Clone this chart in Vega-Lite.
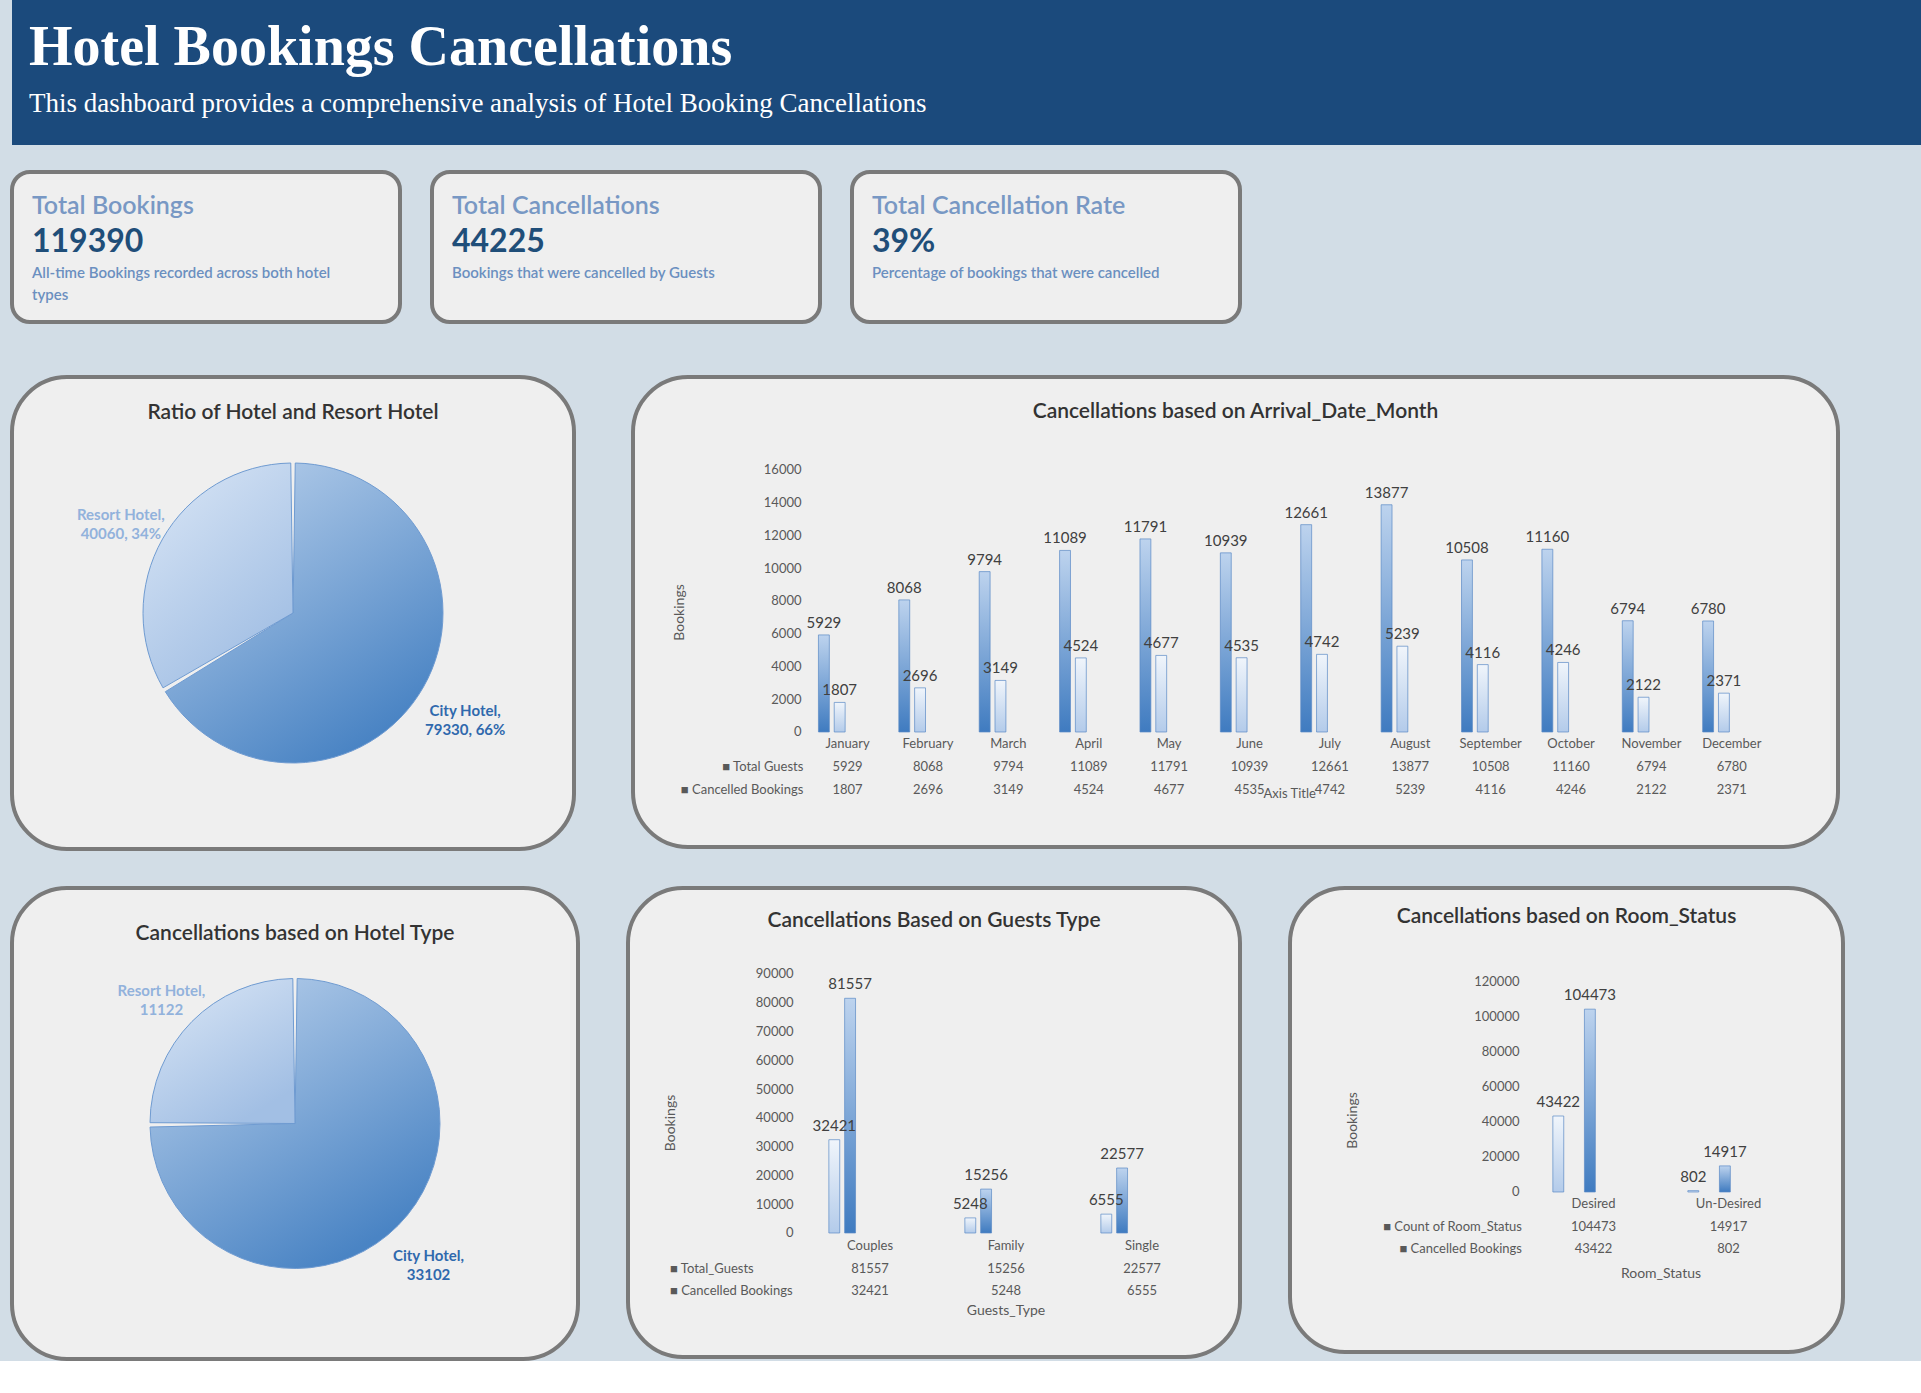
{
  "$schema": "https://vega.github.io/schema/vega-lite/v6.json",
  "background": "#d2dde6",
  "padding": {"left": 10, "top": 0, "right": 0, "bottom": 0},
  "config": {"font": "Lato", "view": {"stroke": null}},
  "spacing": 35,
  "vconcat": [
    {
      "spacing": 51,
      "vconcat": [
        {
          "spacing": 25,
          "vconcat": [
            {
              "width": 1911,
              "height": 145,
              "view": {"fill": "#1b4a7c", "stroke": null},
              "title": {
                "text": "Hotel Bookings Cancellations",
                "subtitle": "This dashboard provides a comprehensive analysis of Hotel Booking Cancellations",
                "anchor": "start", "frame": "group", "dx": 17, "offset": -118,
                "font": "Liberation Serif", "fontSize": 56, "fontWeight": "bold", "color": "#ffffff",
                "subtitleFont": "Liberation Serif", "subtitleFontSize": 27, "subtitleColor": "#ffffff",
                "subtitlePadding": 14
              },
              "data": {"values": [{"t": ""}]},
              "mark": "text",
              "encoding": {"text": {"field": "t"}}
            },
            {
              "spacing": 28,
              "hconcat": [
                {
                  "width": 388, "height": 150,
                  "view": {"fill": "#efefef", "stroke": "#7a7a7a", "strokeWidth": 4, "cornerRadius": 18},
                  "title": {"text": "Total Bookings", "subtitle": "119390", "anchor": "start", "frame": "group", "dx": 20, "offset": -86,
                    "fontSize": 25, "fontWeight": 600, "color": "#7898c4",
                    "subtitleFont": "Lato", "subtitleFontSize": 32, "subtitleFontWeight": "bold", "subtitleColor": "#1f4e79", "subtitlePadding": 8},
                  "data": {"values": [{"d": "All-time Bookings recorded across both hotel\ntypes"}]},
                  "mark": {"type": "text", "align": "left", "baseline": "middle", "lineBreak": "\n", "lineHeight": 22, "fontSize": 15, "fontWeight": 600, "color": "#6b8fc0"},
                  "encoding": {
                    "text": {"field": "d"},
                    "x": {"datum": 0, "type": "quantitative", "scale": {"domain": [0, 1], "range": [20, 388]}, "axis": null},
                    "y": {"datum": 0, "type": "quantitative", "scale": {"domain": [0, 1], "range": [101, 0]}, "axis": null}
                  }
                },
                {
                  "width": 388, "height": 150,
                  "view": {"fill": "#efefef", "stroke": "#7a7a7a", "strokeWidth": 4, "cornerRadius": 18},
                  "title": {"text": "Total Cancellations", "subtitle": "44225", "anchor": "start", "frame": "group", "dx": 20, "offset": -86,
                    "fontSize": 25, "fontWeight": 600, "color": "#7898c4",
                    "subtitleFont": "Lato", "subtitleFontSize": 32, "subtitleFontWeight": "bold", "subtitleColor": "#1f4e79", "subtitlePadding": 8},
                  "data": {"values": [{"d": "Bookings that were cancelled by Guests"}]},
                  "mark": {"type": "text", "align": "left", "baseline": "middle", "lineBreak": "\n", "lineHeight": 22, "fontSize": 15, "fontWeight": 600, "color": "#6b8fc0"},
                  "encoding": {
                    "text": {"field": "d"},
                    "x": {"datum": 0, "type": "quantitative", "scale": {"domain": [0, 1], "range": [20, 388]}, "axis": null},
                    "y": {"datum": 0, "type": "quantitative", "scale": {"domain": [0, 1], "range": [101, 0]}, "axis": null}
                  }
                },
                {
                  "width": 388, "height": 150,
                  "view": {"fill": "#efefef", "stroke": "#7a7a7a", "strokeWidth": 4, "cornerRadius": 18},
                  "title": {"text": "Total Cancellation Rate", "subtitle": "39%", "anchor": "start", "frame": "group", "dx": 20, "offset": -86,
                    "fontSize": 25, "fontWeight": 600, "color": "#7898c4",
                    "subtitleFont": "Lato", "subtitleFontSize": 32, "subtitleFontWeight": "bold", "subtitleColor": "#1f4e79", "subtitlePadding": 8},
                  "data": {"values": [{"d": "Percentage of bookings that were cancelled"}]},
                  "mark": {"type": "text", "align": "left", "baseline": "middle", "lineBreak": "\n", "lineHeight": 22, "fontSize": 15, "fontWeight": 600, "color": "#6b8fc0"},
                  "encoding": {
                    "text": {"field": "d"},
                    "x": {"datum": 0, "type": "quantitative", "scale": {"domain": [0, 1], "range": [20, 388]}, "axis": null},
                    "y": {"datum": 0, "type": "quantitative", "scale": {"domain": [0, 1], "range": [101, 0]}, "axis": null}
                  }
                }
              ]
            }
          ]
        },
        {
          "spacing": 55,
          "hconcat": [
            {
              "width": 562, "height": 472,
              "view": {"fill": "#efefef", "stroke": "#7a7a7a", "strokeWidth": 4, "cornerRadius": 55},
              "title": {"text": "Ratio of Hotel and Resort Hotel", "anchor": "middle", "frame": "group", "baseline": "middle", "offset": -57, "fontSize": 21, "fontWeight": 600, "color": "#333333"},
              "data": {"values": [
                {"hotel": "City Hotel", "n": 79330, "o": 1, "lbl": "City Hotel,\n79330, 66%"},
                {"hotel": "Resort Hotel", "n": 40060, "o": 2, "lbl": "Resort Hotel,\n40060, 34%"}
              ]},
              "encoding": {
                "theta": {"field": "n", "type": "quantitative", "stack": true},
                "order": {"field": "o"}
              },
              "layer": [
                {
                  "mark": {"type": "arc", "outerRadius": 150, "padAngle": 0.03, "stroke": "#6f9bd1", "strokeWidth": 1},
                  "encoding": {
                    "color": {
                      "condition": {"test": "datum.hotel === 'City Hotel'", "value": {"gradient": "linear", "x1": 0, "y1": 0, "x2": 0.6, "y2": 1, "stops": [{"offset": 0, "color": "#c0d5ee"}, {"offset": 1, "color": "#4a84c4"}]}},
                      "value": {"gradient": "linear", "x1": 0, "y1": 0, "x2": 0.6, "y2": 1, "stops": [{"offset": 0, "color": "#dbe7f6"}, {"offset": 1, "color": "#a2bfe4"}]}
                    }
                  }
                },
                {
                  "mark": {"type": "text", "radius": 198, "lineBreak": "\n", "fontSize": 15, "fontWeight": "bold", "lineHeight": 19},
                  "encoding": {
                    "text": {"field": "lbl"},
                    "color": {"condition": {"test": "datum.hotel === 'City Hotel'", "value": "#2f69ad"}, "value": "#92b2dc"}
                  }
                }
              ]
            },
            {
              "width": 1205, "height": 470,
              "view": {"fill": "#efefef", "stroke": "#7a7a7a", "strokeWidth": 4, "cornerRadius": 55},
              "title": {"text": "Cancellations based on Arrival_Date_Month", "anchor": "middle", "frame": "group", "baseline": "middle", "offset": -56, "fontSize": 21, "fontWeight": 600, "color": "#333333"},
              "data": {"values": [
                {"m": "January", "s": "Total Guests", "v": 5929}, {"m": "January", "s": "Cancelled Bookings", "v": 1807},
                {"m": "February", "s": "Total Guests", "v": 8068}, {"m": "February", "s": "Cancelled Bookings", "v": 2696},
                {"m": "March", "s": "Total Guests", "v": 9794}, {"m": "March", "s": "Cancelled Bookings", "v": 3149},
                {"m": "April", "s": "Total Guests", "v": 11089}, {"m": "April", "s": "Cancelled Bookings", "v": 4524},
                {"m": "May", "s": "Total Guests", "v": 11791}, {"m": "May", "s": "Cancelled Bookings", "v": 4677},
                {"m": "June", "s": "Total Guests", "v": 10939}, {"m": "June", "s": "Cancelled Bookings", "v": 4535},
                {"m": "July", "s": "Total Guests", "v": 12661}, {"m": "July", "s": "Cancelled Bookings", "v": 4742},
                {"m": "August", "s": "Total Guests", "v": 13877}, {"m": "August", "s": "Cancelled Bookings", "v": 5239},
                {"m": "September", "s": "Total Guests", "v": 10508}, {"m": "September", "s": "Cancelled Bookings", "v": 4116},
                {"m": "October", "s": "Total Guests", "v": 11160}, {"m": "October", "s": "Cancelled Bookings", "v": 4246},
                {"m": "November", "s": "Total Guests", "v": 6794}, {"m": "November", "s": "Cancelled Bookings", "v": 2122},
                {"m": "December", "s": "Total Guests", "v": 6780}, {"m": "December", "s": "Cancelled Bookings", "v": 2371}
              ]},
              "encoding": {
                "x": {"field": "m", "type": "nominal", "sort": null, "axis": null,
                  "scale": {"domain": ["lbl", "January", "February", "March", "April", "May", "June", "July", "August", "September", "October", "November", "December"], "range": [94, 1139], "paddingInner": 0, "paddingOuter": 0}}
              },
              "layer": [
                {
                  "mark": {"type": "bar", "stroke": "#5a8ac6", "strokeWidth": 0.7},
                  "encoding": {
                    "xOffset": {"field": "s", "sort": ["Total Guests", "Cancelled Bookings"], "scale": {"domain": ["Total Guests", "Cancelled Bookings"], "paddingInner": 0.31, "paddingOuter": 0.7}},
                    "y": {"field": "v", "type": "quantitative", "scale": {"domain": [-7023, 21679], "nice": false, "zero": false},
                      "axis": {"values": [0, 2000, 4000, 6000, 8000, 10000, 12000, 14000, 16000], "format": "d", "grid": false, "domain": false, "ticks": false, "offset": -170,
                        "labelColor": "#595959", "labelFontSize": 13, "title": "Bookings", "titleColor": "#595959", "titleFontSize": 14, "titleFontWeight": "normal", "titlePadding": 77}},
                    "y2": {"datum": 0},
                    "color": {
                      "condition": {"test": "datum.s === 'Cancelled Bookings'", "value": {"gradient": "linear", "x1": 0, "y1": 0, "x2": 0, "y2": 1, "stops": [{"offset": 0, "color": "#f0f5fb"}, {"offset": 1, "color": "#b3cbea"}]}},
                      "value": {"gradient": "linear", "x1": 0, "y1": 0, "x2": 0, "y2": 1, "stops": [{"offset": 0, "color": "#bdd3ee"}, {"offset": 1, "color": "#3f7bc0"}]}
                    }
                  }
                },
                {
                  "mark": {"type": "text", "dy": -12, "fontSize": 15, "color": "#404040"},
                  "encoding": {
                    "xOffset": {"field": "s", "sort": ["Total Guests", "Cancelled Bookings"]},
                    "y": {"field": "v", "type": "quantitative"},
                    "text": {"field": "v", "type": "quantitative", "format": "d"}
                  }
                },
                {
                  "transform": [{"filter": "datum.s === 'Total Guests'"}],
                  "mark": {"type": "text", "fontSize": 13, "color": "#595959"},
                  "encoding": {"y": {"datum": -733, "type": "quantitative"}, "text": {"field": "m"}}
                },
                {
                  "transform": [{"filter": "datum.s === 'Total Guests'"}],
                  "mark": {"type": "text", "fontSize": 13, "color": "#595959"},
                  "encoding": {"y": {"datum": -2137, "type": "quantitative"}, "text": {"field": "v", "type": "quantitative", "format": "d"}}
                },
                {
                  "transform": [{"filter": "datum.s === 'Cancelled Bookings'"}],
                  "mark": {"type": "text", "fontSize": 13, "color": "#595959"},
                  "encoding": {"y": {"datum": -3542, "type": "quantitative"}, "text": {"field": "v", "type": "quantitative", "format": "d"}}
                },
                {
                  "data": {"values": [{"m": "lbl", "t": "■ Total Guests"}]},
                  "mark": {"type": "text", "fontSize": 13, "color": "#595959", "align": "right", "dx": -4},
                  "encoding": {"x": {"field": "m", "type": "nominal", "bandPosition": 1}, "y": {"datum": -2137, "type": "quantitative"}, "text": {"field": "t"}}
                },
                {
                  "data": {"values": [{"m": "lbl", "t": "■ Cancelled Bookings"}]},
                  "mark": {"type": "text", "fontSize": 13, "color": "#595959", "align": "right", "dx": -4},
                  "encoding": {"x": {"field": "m", "type": "nominal", "bandPosition": 1}, "y": {"datum": -3542, "type": "quantitative"}, "text": {"field": "t"}}
                },
                {
                  "data": {"values": [{"m": "July", "t": "Axis Title"}]},
                  "mark": {"type": "text", "fontSize": 13, "color": "#595959"},
                  "encoding": {"x": {"field": "m", "type": "nominal", "bandPosition": 0}, "y": {"datum": -3800, "type": "quantitative"}, "text": {"field": "t"}}
                }
              ]
            }
          ]
        }
      ]
    },
    {
      "spacing": 46,
      "hconcat": [
        {
          "width": 566, "height": 471,
          "view": {"fill": "#efefef", "stroke": "#7a7a7a", "strokeWidth": 4, "cornerRadius": 55},
          "title": {"text": "Cancellations based on Hotel Type", "anchor": "middle", "frame": "group", "baseline": "middle", "offset": -67, "fontSize": 21, "fontWeight": 600, "color": "#333333"},
          "data": {"values": [
            {"hotel": "City Hotel", "n": 33102, "o": 1, "lbl": "City Hotel,\n33102"},
            {"hotel": "Resort Hotel", "n": 11122, "o": 2, "lbl": "Resort Hotel,\n11122"}
          ]},
          "encoding": {
            "theta": {"field": "n", "type": "quantitative", "stack": true},
            "order": {"field": "o"}
          },
          "layer": [
            {
              "mark": {"type": "arc", "outerRadius": 145, "padAngle": 0.03, "stroke": "#6f9bd1", "strokeWidth": 1},
              "encoding": {
                "color": {
                  "condition": {"test": "datum.hotel === 'City Hotel'", "value": {"gradient": "linear", "x1": 0, "y1": 0, "x2": 0.6, "y2": 1, "stops": [{"offset": 0, "color": "#c0d5ee"}, {"offset": 1, "color": "#4a84c4"}]}},
                  "value": {"gradient": "linear", "x1": 0, "y1": 0, "x2": 0.6, "y2": 1, "stops": [{"offset": 0, "color": "#dbe7f6"}, {"offset": 1, "color": "#a2bfe4"}]}
                }
              }
            },
            {
              "mark": {"type": "text", "radius": 188, "lineBreak": "\n", "fontSize": 15, "fontWeight": "bold", "lineHeight": 19},
              "encoding": {
                "text": {"field": "lbl"},
                "color": {"condition": {"test": "datum.hotel === 'City Hotel'", "value": "#2f69ad"}, "value": "#92b2dc"}
              }
            }
          ]
        },
        {
          "width": 612, "height": 469,
          "view": {"fill": "#efefef", "stroke": "#7a7a7a", "strokeWidth": 4, "cornerRadius": 55},
          "title": {"text": "Cancellations Based on Guests Type", "anchor": "middle", "frame": "group", "baseline": "middle", "offset": -54, "fontSize": 21, "fontWeight": 600, "color": "#333333"},
          "data": {"values": [
            {"m": "Couples", "s": "Total_Guests", "v": 81557}, {"m": "Couples", "s": "Cancelled Bookings", "v": 32421},
            {"m": "Family", "s": "Total_Guests", "v": 15256}, {"m": "Family", "s": "Cancelled Bookings", "v": 5248},
            {"m": "Single", "s": "Total_Guests", "v": 22577}, {"m": "Single", "s": "Cancelled Bookings", "v": 6555}
          ]},
          "encoding": {
            "x": {"field": "m", "type": "nominal", "sort": null, "axis": null,
              "scale": {"domain": ["lbl", "Couples", "Family", "Single"], "range": [38, 582], "paddingInner": 0, "paddingOuter": 0}}
          },
          "layer": [
            {
              "mark": {"type": "bar", "stroke": "#5a8ac6", "strokeWidth": 0.7},
              "encoding": {
                "xOffset": {"field": "s", "sort": ["Total_Guests", "Cancelled Bookings"], "scale": {"domain": ["Total_Guests", "Cancelled Bookings"], "paddingInner": 0.24, "paddingOuter": 0.78}},
                "y": {"field": "v", "type": "quantitative", "scale": {"domain": [-43089, 119884], "nice": false, "zero": false},
                  "axis": {"values": [0, 10000, 20000, 30000, 40000, 50000, 60000, 70000, 80000, 90000], "format": "d", "grid": false, "domain": false, "ticks": false, "offset": -167,
                    "labelColor": "#595959", "labelFontSize": 13, "title": "Bookings", "titleColor": "#595959", "titleFontSize": 14, "titleFontWeight": "normal", "titlePadding": 78}},
                "y2": {"datum": 0},
                "color": {
                  "condition": {"test": "datum.s === 'Cancelled Bookings'", "value": {"gradient": "linear", "x1": 0, "y1": 0, "x2": 0, "y2": 1, "stops": [{"offset": 0, "color": "#f0f5fb"}, {"offset": 1, "color": "#b3cbea"}]}},
                  "value": {"gradient": "linear", "x1": 0, "y1": 0, "x2": 0, "y2": 1, "stops": [{"offset": 0, "color": "#bdd3ee"}, {"offset": 1, "color": "#3f7bc0"}]}
                }
              }
            },
            {
              "mark": {"type": "text", "dy": -14, "fontSize": 15, "color": "#404040"},
              "encoding": {
                "xOffset": {"field": "s", "sort": ["Total_Guests", "Cancelled Bookings"]},
                "y": {"field": "v", "type": "quantitative"},
                "text": {"field": "v", "type": "quantitative", "format": "d"}
              }
            },
            {
              "transform": [{"filter": "datum.s === 'Total_Guests'"}],
              "mark": {"type": "text", "fontSize": 13, "color": "#595959"},
              "encoding": {"y": {"datum": -4517, "type": "quantitative"}, "text": {"field": "m"}}
            },
            {
              "transform": [{"filter": "datum.s === 'Total_Guests'"}],
              "mark": {"type": "text", "fontSize": 13, "color": "#595959"},
              "encoding": {"y": {"datum": -12510, "type": "quantitative"}, "text": {"field": "v", "type": "quantitative", "format": "d"}}
            },
            {
              "transform": [{"filter": "datum.s === 'Cancelled Bookings'"}],
              "mark": {"type": "text", "fontSize": 13, "color": "#595959"},
              "encoding": {"y": {"datum": -20154, "type": "quantitative"}, "text": {"field": "v", "type": "quantitative", "format": "d"}}
            },
            {
              "data": {"values": [{"m": "lbl", "t": "■ Total_Guests"}]},
              "mark": {"type": "text", "fontSize": 13, "color": "#595959", "align": "left", "dx": 4},
              "encoding": {"x": {"field": "m", "type": "nominal", "bandPosition": 0}, "y": {"datum": -12510, "type": "quantitative"}, "text": {"field": "t"}}
            },
            {
              "data": {"values": [{"m": "lbl", "t": "■ Cancelled Bookings"}]},
              "mark": {"type": "text", "fontSize": 13, "color": "#595959", "align": "left", "dx": 4},
              "encoding": {"x": {"field": "m", "type": "nominal", "bandPosition": 0}, "y": {"datum": -20154, "type": "quantitative"}, "text": {"field": "t"}}
            },
            {
              "data": {"values": [{"m": "Family", "t": "Guests_Type"}]},
              "mark": {"type": "text", "fontSize": 14, "color": "#595959"},
              "encoding": {"y": {"datum": -27104, "type": "quantitative"}, "text": {"field": "t"}}
            }
          ]
        },
        {
          "width": 553, "height": 464,
          "view": {"fill": "#efefef", "stroke": "#7a7a7a", "strokeWidth": 4, "cornerRadius": 55},
          "title": {"text": "Cancellations based on Room_Status", "anchor": "middle", "frame": "group", "baseline": "middle", "offset": -50, "fontSize": 21, "fontWeight": 600, "color": "#333333"},
          "data": {"values": [
            {"m": "Desired", "s": "Count of Room_Status", "v": 104473}, {"m": "Desired", "s": "Cancelled Bookings", "v": 43422},
            {"m": "Un-Desired", "s": "Count of Room_Status", "v": 14917}, {"m": "Un-Desired", "s": "Cancelled Bookings", "v": 802}
          ]},
          "encoding": {
            "x": {"field": "m", "type": "nominal", "sort": null, "axis": null,
              "scale": {"domain": ["lbl", "Desired", "Un-Desired"], "range": [101, 506], "paddingInner": 0, "paddingOuter": 0}}
          },
          "layer": [
            {
              "mark": {"type": "bar", "stroke": "#5a8ac6", "strokeWidth": 0.7},
              "encoding": {
                "xOffset": {"field": "s", "sort": ["Count of Room_Status", "Cancelled Bookings"], "scale": {"domain": ["Count of Room_Status", "Cancelled Bookings"], "paddingInner": 0.26, "paddingOuter": 0.86}},
                "y": {"field": "v", "type": "quantitative", "scale": {"domain": [-91429, 173714], "nice": false, "zero": false},
                  "axis": {"values": [0, 20000, 40000, 60000, 80000, 100000, 120000], "format": "d", "grid": false, "domain": false, "ticks": false, "offset": -231,
                    "labelColor": "#595959", "labelFontSize": 13, "title": "Bookings", "titleColor": "#595959", "titleFontSize": 14, "titleFontWeight": "normal", "titlePadding": 114}},
                "y2": {"datum": 0},
                "color": {
                  "condition": {"test": "datum.s === 'Cancelled Bookings'", "value": {"gradient": "linear", "x1": 0, "y1": 0, "x2": 0, "y2": 1, "stops": [{"offset": 0, "color": "#f0f5fb"}, {"offset": 1, "color": "#b3cbea"}]}},
                  "value": {"gradient": "linear", "x1": 0, "y1": 0, "x2": 0, "y2": 1, "stops": [{"offset": 0, "color": "#bdd3ee"}, {"offset": 1, "color": "#3f7bc0"}]}
                }
              }
            },
            {
              "mark": {"type": "text", "dy": -14, "fontSize": 15, "color": "#404040"},
              "encoding": {
                "xOffset": {"field": "s", "sort": ["Count of Room_Status", "Cancelled Bookings"]},
                "y": {"field": "v", "type": "quantitative"},
                "text": {"field": "v", "type": "quantitative", "format": "d"}
              }
            },
            {
              "transform": [{"filter": "datum.s === 'Count of Room_Status'"}],
              "mark": {"type": "text", "fontSize": 13, "color": "#595959"},
              "encoding": {"y": {"datum": -6857, "type": "quantitative"}, "text": {"field": "m"}}
            },
            {
              "transform": [{"filter": "datum.s === 'Count of Room_Status'"}],
              "mark": {"type": "text", "fontSize": 13, "color": "#595959"},
              "encoding": {"y": {"datum": -20000, "type": "quantitative"}, "text": {"field": "v", "type": "quantitative", "format": "d"}}
            },
            {
              "transform": [{"filter": "datum.s === 'Cancelled Bookings'"}],
              "mark": {"type": "text", "fontSize": 13, "color": "#595959"},
              "encoding": {"y": {"datum": -32571, "type": "quantitative"}, "text": {"field": "v", "type": "quantitative", "format": "d"}}
            },
            {
              "data": {"values": [{"m": "lbl", "t": "■ Count of Room_Status"}]},
              "mark": {"type": "text", "fontSize": 13, "color": "#595959", "align": "right", "dx": -4},
              "encoding": {"x": {"field": "m", "type": "nominal", "bandPosition": 1}, "y": {"datum": -20000, "type": "quantitative"}, "text": {"field": "t"}}
            },
            {
              "data": {"values": [{"m": "lbl", "t": "■ Cancelled Bookings"}]},
              "mark": {"type": "text", "fontSize": 13, "color": "#595959", "align": "right", "dx": -4},
              "encoding": {"x": {"field": "m", "type": "nominal", "bandPosition": 1}, "y": {"datum": -32571, "type": "quantitative"}, "text": {"field": "t"}}
            },
            {
              "data": {"values": [{"m": "Desired", "t": "Room_Status"}]},
              "mark": {"type": "text", "fontSize": 14, "color": "#595959"},
              "encoding": {"x": {"field": "m", "type": "nominal", "bandPosition": 1}, "y": {"datum": -46857, "type": "quantitative"}, "text": {"field": "t"}}
            }
          ]
        }
      ]
    }
  ]
}
